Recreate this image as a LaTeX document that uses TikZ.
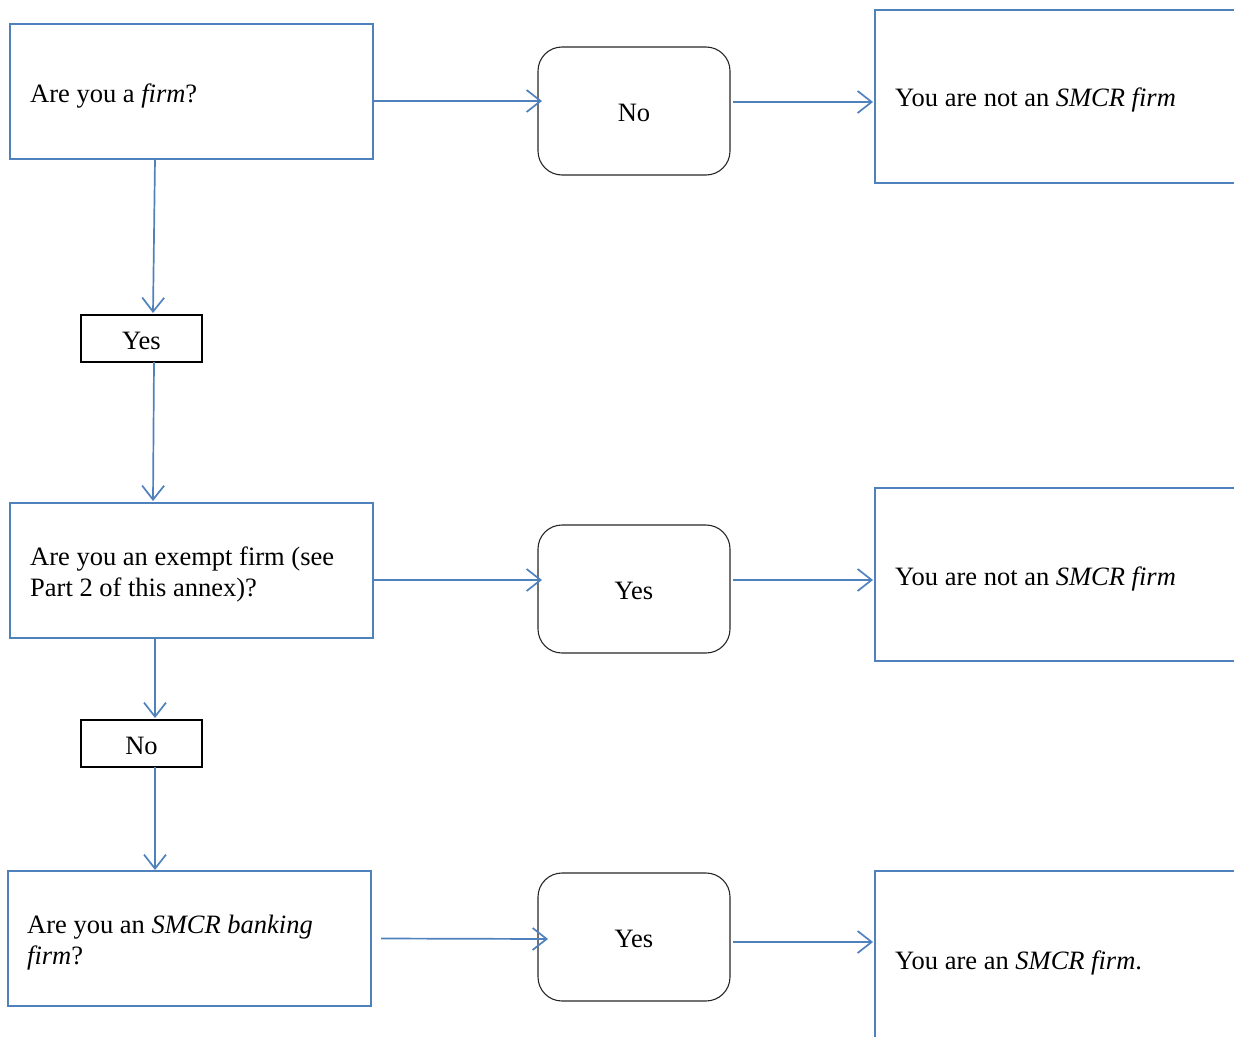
\documentclass[tikz,border=0pt]{standalone}
\usepackage{fontspec}
\setmainfont[Ligatures=NoCommon]{Liberation Serif}
\usetikzlibrary{arrows.meta}
\definecolor{bline}{RGB}{79,129,189}
\newcommand\figfont{\fontsize{26.5pt}{31pt}\selectfont}
\begin{document}
\begin{tikzpicture}[x=1pt,y=-1pt,
  qbox/.style={draw=bline,line width=1.1pt,inner sep=0pt,outer sep=0pt,minimum width=363pt,minimum height=135pt},
  ebox/.style={draw=bline,line width=1.1pt,inner sep=0pt,outer sep=0pt,minimum width=375pt},
  rbox/.style={draw=black!85,line width=1.1pt,rounded corners=24pt,inner sep=0pt,outer sep=0pt,minimum width=192pt,minimum height=128pt,font=\figfont,text height=21pt,text depth=0pt},
  lbox/.style={draw=black,line width=1.8pt,inner sep=0pt,outer sep=0pt,minimum width=121pt,minimum height=47pt,font=\figfont,text height=22pt,text depth=0pt},
  txt/.style={inner sep=0pt,font=\figfont,align=left},
  arr/.style={draw=bline,line width=1.7pt,-{Straight Barb[length=14pt,width=22pt,line width=1.7pt]}}]
\useasboundingbox (0,0) rectangle (1234,1036);
\clip (0,0) rectangle (1234,1036);
% boxes
\node[qbox] (A) at (191.5,91.5) {};
\node[rbox] (No1) at (634,111) {No};
\node[ebox,minimum height=173pt] (R1) at (1062.5,96.5) {};
\node[lbox] (Y1) at (141.5,338.5) {Yes};
\node[qbox] (B) at (191.5,570.5) {};
\node[rbox] (Yes1) at (634,589) {Yes};
\node[ebox,minimum height=173pt] (R2) at (1062.5,574.5) {};
\node[lbox] (N2) at (141.5,743.5) {No};
\node[qbox] (C) at (189.5,938.5) {};
\node[rbox] (Yes2) at (634,937) {Yes};
\node[ebox,minimum height=189pt] (R3) at (1062.5,965.5) {};
% texts
\node[txt,anchor=base west] (At) at (30,102) {Are you a \textit{firm}?};
\node[txt,anchor=base west] (R1t) at (895,106) {You are not an \textit{SMCR firm}};
\node[txt,anchor=west] (Bt) at (30,574.5) {Are you an exempt firm (see\\Part 2 of this annex)?};
\node[txt,anchor=base west] (R2t) at (895,585) {You are not an \textit{SMCR firm}};
\node[txt,anchor=west] (Ct) at (27,943) {Are you an \textit{SMCR banking}\\\textit{firm}?};
\node[txt,anchor=base west] (R3t) at (895,969) {You are an \textit{SMCR firm}.};
% connectors
\draw[arr] ([yshift=-9.5pt]A.east) -- ([xshift=4pt,yshift=10pt]No1.west);
\draw[arr] ([xshift=3pt,yshift=9pt]No1.east) -- ([xshift=-2pt,yshift=-5.5pt]R1.west);
\draw[arr] ([xshift=-36.5pt]A.south) -- ([xshift=11.5pt,yshift=2pt]Y1.north);
\draw[arr] ([xshift=12.5pt]Y1.south) -- ([xshift=-38.5pt,yshift=2pt]B.north);
\draw[arr] ([yshift=-9.5pt]B.east) -- ([xshift=4pt,yshift=9pt]Yes1.west);
\draw[arr] ([xshift=3pt,yshift=9pt]Yes1.east) -- ([xshift=-2pt,yshift=-5.5pt]R2.west);
\draw[arr] ([xshift=-36.5pt]B.south) -- ([xshift=13.5pt,yshift=2pt]N2.north);
\draw[arr] ([xshift=13.5pt]N2.south) -- ([xshift=-34.5pt,yshift=1pt]C.north);
\draw[arr] ([xshift=10pt]C.east) -- ([xshift=10pt,yshift=-2pt]Yes2.west);
\draw[arr] ([xshift=3pt,yshift=-5pt]Yes2.east) -- ([xshift=-2pt,yshift=23.5pt]R3.west);
\end{tikzpicture}
\end{document}
